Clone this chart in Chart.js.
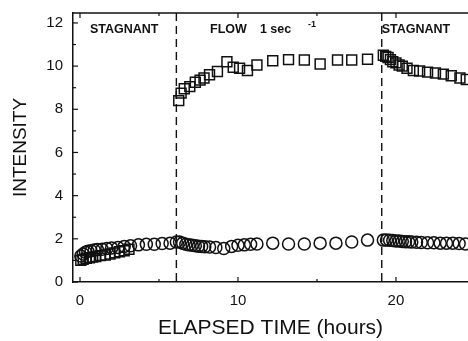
<!DOCTYPE html>
<html>
<head>
<meta charset="utf-8">
<script src="https://cdn.jsdelivr.net/npm/chart.js@4.4.1/dist/chart.umd.min.js"></script>
<style>
  html, body { margin: 0; padding: 0; background: #fff; }
  #wrap { width: 468px; height: 341px; }
</style>
</head>
<body>
<div id="wrap"><canvas id="chart" width="468" height="341"></canvas></div>
<script>
// squares (upper series, plus the low stagnant start)
const squareTime = [0.05, 0.2, 0.4, 0.6, 0.8, 1.0, 1.3, 1.6, 1.9, 2.2, 2.5, 2.8, 3.1,
  6.25, 6.4, 6.6, 6.95, 7.3, 7.6, 7.85, 8.2, 8.7, 9.3, 9.7, 10.1, 10.6, 11.2, 12.2, 13.2, 14.2, 15.2, 16.3, 17.2, 18.2,
  19.2, 19.35, 19.5, 19.65, 19.8, 20.0, 20.2, 20.4, 20.7, 21.1, 21.5, 22.0, 22.5, 23.0, 23.5, 24.05, 24.45];
const squareIntensity = [1.0, 1.05, 1.1, 1.12, 1.15, 1.18, 1.22, 1.25, 1.3, 1.35, 1.4, 1.45, 1.52,
  8.4, 8.75, 8.95, 9.05, 9.25, 9.35, 9.45, 9.6, 9.75, 10.2, 9.95, 9.9, 9.8, 10.05, 10.25, 10.3, 10.28, 10.1, 10.28, 10.28, 10.32,
  10.5, 10.45, 10.4, 10.3, 10.2, 10.15, 10.05, 10.0, 9.9, 9.8, 9.77, 9.72, 9.68, 9.63, 9.55, 9.45, 9.38];

// circles (lower series)
const circleTime = [0.05, 0.2, 0.35, 0.5, 0.7, 0.9, 1.1, 1.4, 1.7, 2.0, 2.4, 2.8, 3.2, 3.7, 4.2, 4.7, 5.2, 5.7,
  6.1, 6.3, 6.5, 6.7, 6.9, 7.1, 7.3, 7.5, 7.7, 7.9, 8.2, 8.6, 9.1, 9.6, 10.0, 10.4, 10.8, 11.2, 12.2, 13.2, 14.2, 15.2, 16.2, 17.2, 18.2,
  19.2, 19.4, 19.6, 19.8, 20.0, 20.2, 20.4, 20.6, 20.8, 21.0, 21.3, 21.6, 22.0, 22.4, 22.8, 23.2, 23.6, 24.0, 24.4];
const circleIntensity = [1.2, 1.3, 1.38, 1.42, 1.45, 1.48, 1.5, 1.52, 1.55, 1.58, 1.6, 1.65, 1.68, 1.72, 1.75, 1.75, 1.78, 1.8,
  1.85, 1.85, 1.8, 1.75, 1.72, 1.7, 1.68, 1.66, 1.65, 1.63, 1.62, 1.6, 1.55, 1.65, 1.7, 1.72, 1.75, 1.76, 1.8, 1.76, 1.76, 1.8, 1.8, 1.85, 1.94,
  1.94, 1.95, 1.93, 1.92, 1.9, 1.9, 1.88, 1.87, 1.86, 1.85, 1.84, 1.83, 1.82, 1.82, 1.8, 1.8, 1.8, 1.78, 1.76];

const xTickValues = [0, 10, 20];
const yTickValues = [0, 2, 4, 6, 8, 10, 12];
const switchTimes = [6.1, 19.1]; // flow on / flow off
const phaseLabels = ['STAGNANT', 'FLOW', '1 sec', '-1', 'STAGNANT'];
const phaseLabelTimes = [0.63, 8.23, 11.39, 14.43, 19.1];
const phaseLabelIntensity = [11.68, 11.68, 11.68, 11.92, 11.68];

const toPoints = (xs, ys) => xs.map((t, i) => ({ x: t, y: ys[i] }));
const FONT = '"Liberation Sans", Arial, sans-serif';

// frame top, inward ticks, dashed phase lines, phase labels
const decor = {
  id: 'decor',
  afterDatasetsDraw(chart) {
    const { ctx, chartArea: a, scales: { x, y } } = chart;
    ctx.save();
    ctx.strokeStyle = '#111';
    ctx.lineWidth = 1.5;
    ctx.beginPath();
    ctx.moveTo(a.left, a.top);
    ctx.lineTo(a.right, a.top);
    ctx.stroke();

    ctx.lineWidth = 1.2;
    for (let v = 0; v <= 12; v++) {
      const py = y.getPixelForValue(v);
      ctx.beginPath();
      ctx.moveTo(a.left, py);
      ctx.lineTo(a.left + (v % 2 === 0 ? 5 : 3), py);
      ctx.stroke();
    }
    for (let t = 0; t <= 20; t += 5) {
      const px = x.getPixelForValue(t);
      const len = t % 10 === 0 ? 5 : 3;
      ctx.beginPath();
      ctx.moveTo(px, a.bottom);
      ctx.lineTo(px, a.bottom - len);
      ctx.moveTo(px, a.top);
      ctx.lineTo(px, a.top + len);
      ctx.stroke();
    }

    ctx.lineWidth = 1.4;
    ctx.setLineDash([8, 5]);
    switchTimes.forEach(t => {
      const px = x.getPixelForValue(t);
      ctx.beginPath();
      ctx.moveTo(px, a.top);
      ctx.lineTo(px, a.bottom);
      ctx.stroke();
    });
    ctx.setLineDash([]);

    ctx.fillStyle = '#111';
    ctx.textBaseline = 'middle';
    ctx.textAlign = 'left';
    phaseLabels.forEach((txt, i) => {
      ctx.font = (txt === '-1' ? 'bold 9px ' : 'bold 12.5px ') + FONT;
      ctx.fillText(txt, x.getPixelForValue(phaseLabelTimes[i]), y.getPixelForValue(phaseLabelIntensity[i]));
    });
    ctx.restore();
  }
};

new Chart(document.getElementById('chart'), {
  type: 'scatter',
  data: {
    datasets: [{
      label: 'squares',
      data: toPoints(squareTime, squareIntensity),
      pointStyle: 'rect',
      pointRadius: 7,
      borderColor: '#111',
      backgroundColor: 'rgba(0,0,0,0)',
      borderWidth: 1.5
    }, {
      label: 'circles',
      data: toPoints(circleTime, circleIntensity),
      pointStyle: 'circle',
      pointRadius: 6,
      borderColor: '#111',
      backgroundColor: 'rgba(0,0,0,0)',
      borderWidth: 1.5
    }]
  },
  options: {
    responsive: false,
    animation: false,
    devicePixelRatio: 1,
    layout: { autoPadding: false, padding: { top: 13, left: 0, right: 0, bottom: 0 } },
    plugins: { legend: { display: false }, tooltip: { enabled: false } },
    scales: {
      x: {
        type: 'linear',
        min: -0.443,
        max: 24.56,
        afterBuildTicks: s => { s.ticks = xTickValues.map(v => ({ value: v })); },
        afterFit: s => { s.height = 59; s.paddingLeft = 0; s.paddingRight = 0; },
        grid: { display: false, drawTicks: false },
        border: { display: true, color: '#111', width: 1.5 },
        ticks: { color: '#111', padding: 10, font: { size: 15, family: FONT } },
        title: {
          display: true, text: 'ELAPSED TIME (hours)', color: '#111',
          font: { size: 21, family: FONT },
          padding: { top: 0, bottom: 0 }
        }
      },
      y: {
        type: 'linear',
        min: 0,
        max: 12.46,
        afterBuildTicks: s => { s.ticks = yTickValues.map(v => ({ value: v })); },
        afterFit: s => { s.width = 73; s.paddingTop = 0; s.paddingBottom = 0; },
        grid: { display: false, drawTicks: false },
        border: { display: true, color: '#111', width: 1.5 },
        ticks: { color: '#111', padding: 10, font: { size: 15, family: FONT } },
        title: {
          display: true, text: 'INTENSITY', color: '#111',
          font: { size: 19, family: FONT },
          padding: { top: 9, bottom: 0 }
        }
      }
    }
  },
  plugins: [decor]
});
</script>
</body>
</html>
